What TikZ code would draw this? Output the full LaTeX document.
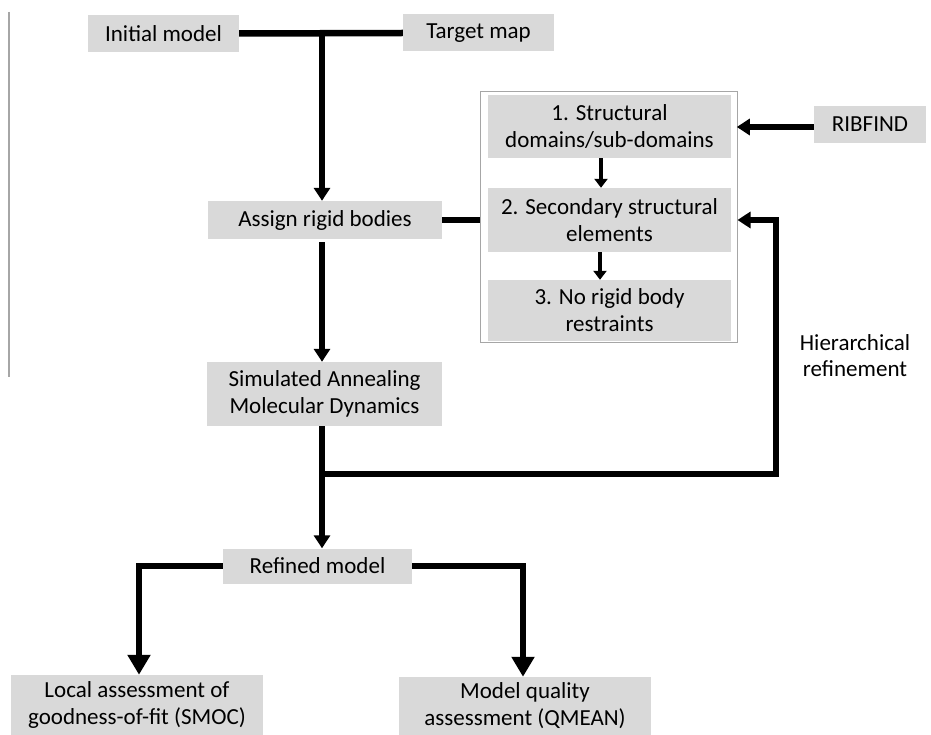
\documentclass[tikz,border=0pt]{standalone}
\usepackage{fontspec}
\setmainfont{Carlito}
\usetikzlibrary{arrows.meta}
\definecolor{boxgray}{HTML}{D9D9D9}
\definecolor{framegray}{HTML}{A6A6A6}
\begin{document}
\begin{tikzpicture}[x=1pt,y=-1pt,
  box/.style={fill=boxgray, draw=none, align=center, inner sep=0pt,
    font=\fontsize{23}{27}\selectfont},
  conn/.style={line width=6.5pt},
  bigtip/.style={-{Triangle[width=16pt,length=13pt]}},
  bottomtip/.style={-{Triangle[width=22pt,length=20pt]}},
  smalltip/.style={-{Triangle[width=13pt,length=9pt]}},
  frame/.style={draw=framegray, line width=1pt, fill=white, inner sep=0pt},
  plain/.style={align=center, inner sep=0pt, font=\fontsize{23}{26}\selectfont}]
\useasboundingbox (0,0) rectangle (931,735);
\fill[white] (0,0) rectangle (931,735);

% stray left rule
\draw[framegray, line width=1.3pt] (9,12) -- (9,377);

% nodes
\node[box, minimum width=151, minimum height=37] (init) at (163.5,33.5) {Initial model};
\node[box, minimum width=151, minimum height=37] (target) at (478.5,33) {Target map};
\node[box, minimum width=234, minimum height=38] (assign) at (325,220) {Assign rigid bodies};
\node[box, minimum width=235, minimum height=64] (sim) at (324.5,394) {Simulated Annealing\\Molecular Dynamics};
\node[box, minimum width=189, minimum height=35] (refined) at (317.5,566) {Refined model};
\node[box, minimum width=252, minimum height=60] (local) at (137,705) {Local assessment of\\goodness-of-fit (SMOC)};
\node[box, minimum width=252, minimum height=58] (quality) at (525,706) {Model quality\\assessment (QMEAN)};

\node[frame, minimum width=257, minimum height=250] (big) at (608.5,217) {};
\node[box, minimum width=243, minimum height=63] (b1) at (609.5,126.5) {1. Structural\\domains/sub-domains};
\node[box, minimum width=243, minimum height=64] (b2) at (609.5,220) {2. Secondary structural\\elements};
\node[box, minimum width=243, minimum height=61] (b3) at (609.5,310.5) {3. No rigid body\\restraints};

\node[box, minimum width=112, minimum height=37] (rib) at (870,124.5) {RIBFIND};
\node[plain] (hier) at (855,356) {Hierarchical\\refinement};

% coordinates
\coordinate (t) at (322,33.5);
\coordinate (j) at (322,474);
\coordinate (fb) at (776,474);
\coordinate (lb) at (139,566);
\coordinate (rb) at (523,566);

% connectors
\draw[conn] (init.east) -- (target.west);
\draw[conn, bigtip] (t) -- (t |- assign.north);
\draw[conn] (assign.east) -- (big.west |- assign.east);
\draw[conn, bigtip] (j |- assign.south) ++(0,3) -- (j |- sim.north);
\draw[conn] (j |- sim.south) -- (j);
\draw[conn, bigtip] (j) -- (j |- refined.north);
\draw[conn, bigtip] (j) -- (fb) -- (fb |- b2.east) -- (big.east |- b2.east);
\draw[conn, bigtip] (rib.west) ++(0,2.5) -- ++(-77,0);
\draw[line width=4.5pt, smalltip] (b1.south -| 601,0) -- (b2.north -| 601,0);
\draw[line width=4.5pt, smalltip] (b2.south -| 600,0) -- (b3.north -| 600,0);
\draw[conn, bottomtip] (refined.west) -- (lb) -- (lb |- local.north);
\draw[conn, bottomtip] (refined.east) -- (rb) -- (rb |- quality.north);
\end{tikzpicture}
\end{document}
